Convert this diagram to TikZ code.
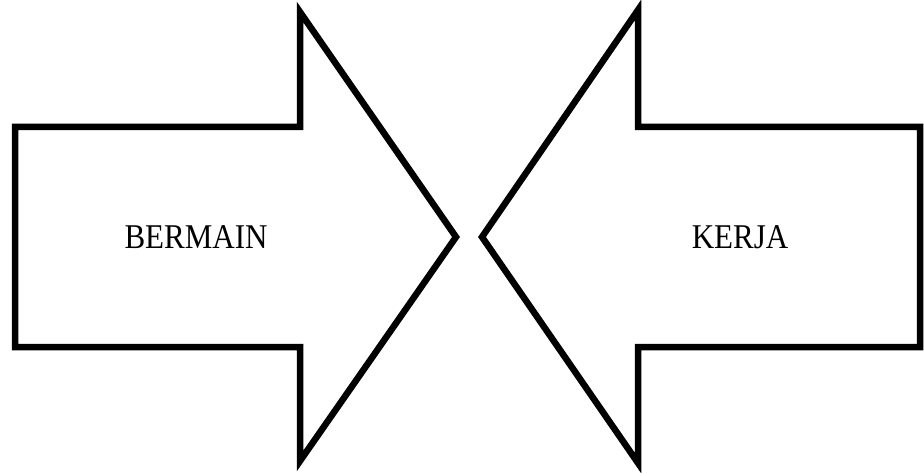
\documentclass[tikz,border=0pt]{standalone}
\usepackage{fontspec}
\usepackage{graphicx}
\setmainfont{Liberation Serif}
\usetikzlibrary{positioning}

\newcommand{\tallword}[1]{\scalebox{1}[1.12]{#1}}

\begin{document}
\begin{tikzpicture}[
  x=1pt, y=-1pt,
  blockarrow/.style={draw=black, line width=6.5pt, line join=miter, fill=white},
  lab/.style={font=\fontsize{31}{31}\selectfont, inner sep=0pt}]
\useasboundingbox (0,0) rectangle (924,473);
% left arrow
\draw[blockarrow] (15,127) -- (300,127) -- (300,12) -- (456,237) -- (300,461) -- (300,347) -- (15,347) -- cycle;
\node[lab] (bermain) at (196,237) {\tallword{BERMAIN}};
% right arrow
\draw[blockarrow] (920,127) -- (638,127) -- (638,10) -- (482,237) -- (638,463) -- (638,347) -- (920,347) -- cycle;
\node[lab] (kerja) at (740,237) {\tallword{KERJA}};
\end{tikzpicture}
\end{document}
